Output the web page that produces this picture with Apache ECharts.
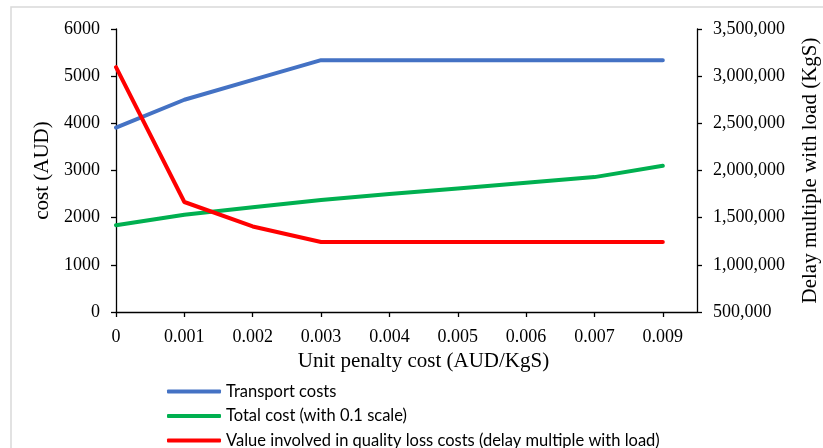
<!DOCTYPE html>
<html>
<head>
<meta charset="utf-8">
<script src="https://cdn.jsdelivr.net/npm/echarts@6/dist/echarts.min.js"></script>
<style>
  html, body { margin: 0; padding: 0; background: #fff; }
  #chart { width: 823px; height: 448px; }
</style>
</head>
<body>
<div id="chart"></div>
<script>
// Unit penalty cost categories (AUD/KgS)
const categories = ['0', '0.001', '0.002', '0.003', '0.004', '0.005', '0.006', '0.007', '0.009'];

// Transport costs (AUD)
const transportCosts = [3910, 4500, 4920, 5340, 5340, 5340, 5340, 5340, 5340];
// Total cost, drawn at 0.1 scale (AUD)
const totalCost = [1840, 2063, 2220, 2374, 2500, 2620, 2740, 2860, 3100];
// Value involved in quality loss costs: delay multiplied by load (KgS)
const qualityLossValue = [3095000, 1666000, 1407000, 1242000, 1242000, 1242000, 1242000, 1242000, 1242000];

const leftTicks = { min: 0, max: 6000, interval: 1000 };
const rightTicks = { min: 500000, max: 3500000, interval: 500000 };

const serifFont = '"Liberation Serif", "Times New Roman", serif';
const legendFont = 'Lato, "Liberation Sans", sans-serif';

// Points are placed by category index on a value axis so the axis line
// can run on past the last category up to the secondary y-axis.
const toPairs = arr => arr.map((v, i) => [i, v]);
const tickIdx = categories.map((_, i) => i);

const chart = echarts.init(document.getElementById('chart'), null, { renderer: 'canvas' });

const axisLineStyle = { color: '#000', width: 1.3 };

chart.setOption({
  animation: false,
  backgroundColor: '#fff',
  graphic: [{
    type: 'rect',
    shape: { x: 11, y: 7, width: 900, height: 600 },
    style: { fill: 'none', stroke: '#d9d9d9', lineWidth: 1.5 },
    silent: true,
    z: -1
  }],
  grid: { left: 116, right: 126, top: 29, bottom: 136, containLabel: false, outerBoundsMode: 'none' },
  legend: {
    orient: 'vertical',
    left: 167,
    top: 383,
    height: 90,
    padding: 0,
    itemWidth: 54,
    itemHeight: 4,
    itemGap: 7.5,
    icon: 'roundRect',
    textStyle: { fontFamily: legendFont, fontSize: 16.5, color: '#000', lineHeight: 16 },
    data: ['Transport costs', 'Total cost (with 0.1 scale)', 'Value involved in quality loss costs (delay multiple with load)']
  },
  xAxis: {
    type: 'value',
    min: 0,
    max: 8.5,
    interval: 1,
    name: 'Unit penalty cost (AUD/KgS)',
    nameLocation: 'middle',
    nameGap: 36,
    nameTextStyle: { fontFamily: serifFont, fontSize: 21, color: '#000', padding: [0, 0, 0, 34] },
    axisLine: { lineStyle: axisLineStyle },
    axisTick: { show: true, inside: false, length: 5, lineStyle: axisLineStyle, customValues: tickIdx },
    axisLabel: {
      customValues: tickIdx,
      formatter: v => categories[Math.round(v)],
      fontFamily: serifFont, fontSize: 18, color: '#000', margin: 16
    },
    splitLine: { show: false }
  },
  yAxis: [{
    type: 'value',
    position: 'left',
    min: leftTicks.min,
    max: leftTicks.max,
    interval: leftTicks.interval,
    name: 'cost (AUD)',
    nameLocation: 'middle',
    nameGap: 63,
    nameRotate: 90,
    nameTextStyle: { fontFamily: serifFont, fontSize: 21, color: '#000' },
    axisLine: { show: true, lineStyle: axisLineStyle },
    axisTick: { show: true, inside: false, length: 5, lineStyle: axisLineStyle },
    axisLabel: { fontFamily: serifFont, fontSize: 18, color: '#000', margin: 16, formatter: v => String(v) },
    splitLine: { show: false }
  }, {
    type: 'value',
    position: 'right',
    min: rightTicks.min,
    max: rightTicks.max,
    interval: rightTicks.interval,
    name: 'Delay multiple with load (KgS)',
    nameLocation: 'middle',
    nameGap: 103,
    nameRotate: 90,
    nameTextStyle: { fontFamily: serifFont, fontSize: 21, color: '#000' },
    axisLine: { show: true, lineStyle: axisLineStyle },
    axisTick: { show: true, inside: false, length: 5, lineStyle: axisLineStyle },
    axisLabel: {
      fontFamily: serifFont, fontSize: 18, color: '#000', margin: 16,
      formatter: v => v.toLocaleString('en-US')
    },
    splitLine: { show: false }
  }],
  series: [{
    name: 'Transport costs',
    type: 'line',
    yAxisIndex: 0,
    data: toPairs(transportCosts),
    symbol: 'none',
    color: '#4472C4',
    lineStyle: { width: 4, cap: 'round', join: 'round' }
  }, {
    name: 'Total cost (with 0.1 scale)',
    type: 'line',
    yAxisIndex: 0,
    data: toPairs(totalCost),
    symbol: 'none',
    color: '#00B050',
    lineStyle: { width: 4, cap: 'round', join: 'round' }
  }, {
    name: 'Value involved in quality loss costs (delay multiple with load)',
    type: 'line',
    yAxisIndex: 1,
    data: toPairs(qualityLossValue),
    symbol: 'none',
    color: '#FF0000',
    lineStyle: { width: 4, cap: 'round', join: 'round' }
  }]
});
</script>
</body>
</html>
